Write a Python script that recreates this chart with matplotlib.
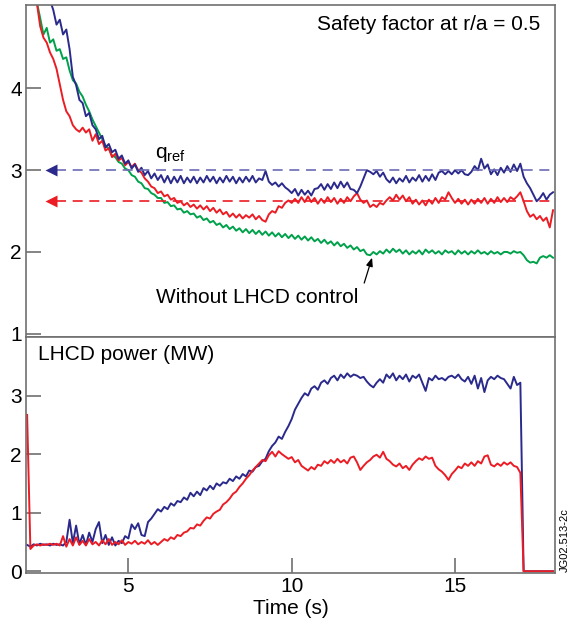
import numpy as np
import matplotlib
matplotlib.use("Agg")
import matplotlib.pyplot as plt

plt.rcParams['font.family'] = ['Liberation Sans', 'DejaVu Sans']
plt.rcParams['mathtext.fontset'] = 'custom'
plt.rcParams['mathtext.rm'] = 'Liberation Sans'
plt.rcParams['mathtext.it'] = 'Liberation Sans'

# sample times (s): 1.9 .. 18.0 every 0.1 s
t0, dt, n = 1.9, 0.1, 162
time = t0 + dt * np.arange(n)

# --- safety factor q at r/a = 0.5 ---------------------------------------------
q_blue = [6.00,
    5.85, 5.70, 5.58, 5.45, 5.32, 5.20, 5.08, 4.96, 4.78, 4.84,
    4.66, 4.72, 4.48, 4.14, 4.04, 3.86, 3.82, 3.66, 3.70, 3.55,
    3.50, 3.38, 3.42, 3.28, 3.32, 3.22, 3.25, 3.14, 3.18, 3.08,
    3.12, 3.02, 3.07, 2.98, 3.03, 2.94, 2.99, 2.90, 2.96, 2.88,
    2.94, 2.85, 2.93, 2.84, 2.92, 2.85, 2.93, 2.84, 2.91, 2.85,
    2.92, 2.84, 2.91, 2.85, 2.93, 2.86, 2.92, 2.84, 2.91, 2.85,
    2.93, 2.86, 2.92, 2.84, 2.91, 2.85, 2.92, 2.86, 2.93, 2.85,
    2.90, 2.88, 2.99, 2.86, 2.82, 2.85, 2.80, 2.84, 2.79, 2.76,
    2.72, 2.77, 2.69, 2.76, 2.70, 2.75, 2.69, 2.77, 2.78, 2.83,
    2.76, 2.83, 2.77, 2.85, 2.78, 2.86, 2.79, 2.85, 2.77, 2.76,
    2.72, 2.80, 2.90, 3.00, 2.98, 2.95, 2.99, 2.92, 2.97, 2.89,
    2.85, 2.91, 2.84, 2.90, 2.86, 2.93, 2.85, 2.91, 2.87, 2.94,
    2.86, 2.93, 2.87, 2.95, 2.88, 2.97, 2.99, 2.95, 2.99, 2.95,
    3.00, 2.96, 3.00, 2.95, 2.94, 2.98, 3.05, 3.00, 3.14, 3.02,
    3.07, 2.95, 3.01, 2.94, 3.03, 2.97, 3.05, 2.98, 3.07, 2.99,
    3.08, 2.92, 2.84, 2.78, 2.70, 2.62, 2.66, 2.72, 2.64, 2.70,
    2.73]

q_red = [5.60,
    5.40, 5.20, 5.04, 4.76, 4.62, 4.56, 4.44, 4.36, 4.24, 4.05,
    3.86, 3.72, 3.66, 3.55, 3.50, 3.47, 3.52, 3.46, 3.50, 3.36,
    3.44, 3.32, 3.36, 3.24, 3.27, 3.16, 3.20, 3.12, 3.15, 3.06,
    3.10, 3.04, 3.08, 3.00, 2.97, 2.90, 2.86, 2.80, 2.78, 2.72,
    2.74, 2.68, 2.70, 2.64, 2.66, 2.60, 2.62, 2.57, 2.60, 2.55,
    2.58, 2.53, 2.57, 2.52, 2.56, 2.50, 2.54, 2.48, 2.52, 2.46,
    2.49, 2.43, 2.47, 2.42, 2.46, 2.41, 2.45, 2.42, 2.46, 2.40,
    2.44, 2.39, 2.37, 2.46, 2.50, 2.48, 2.56, 2.54, 2.60, 2.63,
    2.60, 2.65, 2.60, 2.67, 2.61, 2.68, 2.61, 2.66, 2.59, 2.65,
    2.60, 2.67, 2.61, 2.66, 2.59, 2.65, 2.60, 2.67, 2.62, 2.68,
    2.72, 2.64, 2.60, 2.63, 2.55, 2.58, 2.55, 2.60, 2.58, 2.63,
    2.67, 2.63, 2.70, 2.64, 2.69, 2.62, 2.67, 2.59, 2.64, 2.58,
    2.63, 2.57, 2.64, 2.59, 2.66, 2.60, 2.67, 2.64, 2.73, 2.66,
    2.60, 2.65, 2.59, 2.64, 2.58, 2.64, 2.59, 2.65, 2.60, 2.66,
    2.59, 2.65, 2.60, 2.67, 2.61, 2.66, 2.61, 2.67, 2.64, 2.68,
    2.73, 2.62, 2.50, 2.43, 2.46, 2.40, 2.44, 2.38, 2.42, 2.30,
    2.51]

q_green = [5.60,
    5.40, 5.20, 5.05, 4.86, 4.66, 4.74, 4.56, 4.60, 4.46, 4.48,
    4.36, 4.38, 4.22, 4.10, 4.06, 3.96, 3.90, 3.80, 3.72, 3.62,
    3.54, 3.46, 3.38, 3.30, 3.26, 3.18, 3.16, 3.10, 3.08, 3.02,
    3.00, 2.94, 2.92, 2.86, 2.84, 2.78, 2.77, 2.72, 2.70, 2.66,
    2.66, 2.60, 2.61, 2.56, 2.57, 2.52, 2.53, 2.48, 2.50, 2.46,
    2.47, 2.42, 2.44, 2.39, 2.41, 2.36, 2.38, 2.33, 2.35, 2.30,
    2.33, 2.28, 2.31, 2.26, 2.29, 2.24, 2.28, 2.23, 2.27, 2.22,
    2.26, 2.21, 2.25, 2.20, 2.24, 2.19, 2.23, 2.18, 2.22, 2.17,
    2.21, 2.16, 2.20, 2.15, 2.19, 2.14, 2.18, 2.13, 2.16, 2.11,
    2.15, 2.10, 2.13, 2.08, 2.12, 2.07, 2.10, 2.05, 2.08, 2.03,
    2.06, 2.01, 2.03, 1.97, 1.96, 2.00, 1.97, 2.01, 1.98, 2.03,
    1.99, 2.04, 2.00, 2.03, 1.98, 2.02, 1.97, 2.01, 1.98, 2.02,
    1.97, 2.03, 1.99, 2.02, 1.98, 2.01, 1.97, 2.02, 1.99, 2.01,
    1.97, 2.02, 1.98, 2.01, 1.97, 2.01, 1.98, 2.02, 1.98, 2.00,
    1.97, 2.01, 1.98, 2.00, 1.97, 2.00, 2.00, 1.98, 2.01, 1.99,
    2.00, 1.96, 1.90, 1.87, 1.88, 1.86, 1.93, 1.95, 1.93, 1.96,
    1.93]

q_ref_blue = 3.0
q_ref_red = 2.62
q_ref_start = 2.62   # time of the arrow heads

# --- LHCD power (MW) ----------------------------------------------------------
p_blue = [0.45,
    0.42, 0.46, 0.44, 0.47, 0.45, 0.46, 0.44, 0.47, 0.45, 0.46,
    0.44, 0.50, 0.88, 0.48, 0.78, 0.46, 0.62, 0.45, 0.66, 0.50,
    0.72, 0.84, 0.48, 0.62, 0.45, 0.58, 0.44, 0.52, 0.48, 0.60,
    0.56, 0.80, 0.72, 0.82, 0.62, 0.60, 0.84, 0.90, 0.98, 1.06,
    1.02, 1.10, 1.06, 1.16, 1.12, 1.20, 1.18, 1.26, 1.22, 1.34,
    1.28, 1.36, 1.30, 1.42, 1.38, 1.46, 1.40, 1.50, 1.46, 1.52,
    1.50, 1.58, 1.54, 1.62, 1.58, 1.66, 1.62, 1.72, 1.70, 1.78,
    1.80, 1.88, 1.92, 2.05, 2.14, 2.20, 2.30, 2.26, 2.38, 2.48,
    2.60, 2.76, 2.86, 2.96, 3.04, 3.00, 3.12, 3.16, 3.10, 3.22,
    3.26, 3.20, 3.30, 3.34, 3.26, 3.36, 3.30, 3.38, 3.32, 3.36,
    3.34, 3.30, 3.32, 3.24, 3.18, 3.14, 3.22, 3.28, 3.22, 3.36,
    3.30, 3.38, 3.26, 3.34, 3.28, 3.36, 3.24, 3.34, 3.30, 3.36,
    3.22, 3.08, 3.30, 3.26, 3.34, 3.28, 3.30, 3.26, 3.32, 3.34,
    3.30, 3.36, 3.28, 3.24, 3.32, 3.20, 3.34, 3.12, 3.30, 3.06,
    3.26, 3.32, 3.28, 3.34, 3.30, 3.28, 3.20, 3.12, 3.32, 3.18,
    3.22, 0.00, 0.00, 0.00, 0.00, 0.00, 0.00, 0.00, 0.00, 0.00,
    0.00]

p_red = [2.67,
    0.38, 0.44, 0.46, 0.44, 0.46, 0.45, 0.47, 0.45, 0.47, 0.44,
    0.60, 0.42, 0.55, 0.44, 0.58, 0.45, 0.52, 0.44, 0.55, 0.46,
    0.50, 0.44, 0.53, 0.46, 0.55, 0.45, 0.50, 0.46, 0.53, 0.45,
    0.50, 0.47, 0.52, 0.46, 0.50, 0.47, 0.53, 0.46, 0.50, 0.45,
    0.50, 0.55, 0.52, 0.58, 0.55, 0.62, 0.60, 0.66, 0.68, 0.74,
    0.73, 0.80, 0.78, 0.86, 0.92, 0.90, 0.98, 1.02, 1.05, 1.14,
    1.18, 1.24, 1.32, 1.36, 1.44, 1.50, 1.58, 1.64, 1.72, 1.78,
    1.84, 1.90, 1.88, 1.98, 2.04, 1.96, 2.05, 2.00, 1.96, 1.92,
    1.95, 1.86, 1.90, 1.80, 1.76, 1.72, 1.78, 1.74, 1.82, 1.80,
    1.88, 1.84, 1.90, 1.85, 1.92, 1.86, 1.90, 1.84, 1.94, 1.96,
    1.86, 1.73, 1.80, 1.86, 1.90, 1.96, 1.99, 1.94, 2.04, 1.92,
    1.88, 1.82, 1.79, 1.84, 1.76, 1.80, 1.73, 1.82, 1.88, 1.93,
    1.90, 1.96, 1.92, 1.94, 1.80, 1.74, 1.70, 1.64, 1.56, 1.66,
    1.72, 1.79, 1.76, 1.84, 1.80, 1.86, 1.80, 1.88, 1.84, 1.96,
    1.98, 1.82, 1.79, 1.84, 1.80, 1.86, 1.82, 1.86, 1.80, 1.78,
    1.68, 0.00, 0.00, 0.00, 0.00, 0.00, 0.00, 0.00, 0.00, 0.00,
    0.00]

BLUE = "#2a2a8c"
RED = "#ec1c24"
GREEN = "#00a14b"
BLUE_REF = "#6b6bb5"
SPINE = "#707070"
FS = 15

fig = plt.figure(figsize=(5.76, 6.24), dpi=100)
ax1 = fig.add_axes([0.0451, 0.4599, 0.9184, 0.5321])
ax2 = fig.add_axes([0.0451, 0.0817, 0.9184, 0.3782])

for ax in (ax1, ax2):
    for s in ax.spines.values():
        s.set_color(SPINE)
        s.set_linewidth(1.2)
    ax.set_xlim(1.865, 18.06)
    ax.tick_params(direction="in", length=11, width=1.2, color=SPINE,
                   labelsize=FS, pad=3)

# top panel
ax1.plot(time, q_green, color=GREEN, lw=1.4)
ax1.plot(time, q_red, color=RED, lw=1.4)
ax1.plot(time, q_blue, color=BLUE, lw=1.4)

tend = time[-1] + 0.1
ax1.plot([q_ref_start + 0.15, tend], [q_ref_blue, q_ref_blue], color=BLUE_REF,
         lw=1.2, dashes=(6, 4))
ax1.plot([q_ref_start + 0.15, tend], [q_ref_red, q_ref_red], color=RED,
         lw=1.2, dashes=(6, 4))
ax1.plot([q_ref_start], [q_ref_blue], marker="<", ms=8, color=BLUE, mec="none")
ax1.plot([q_ref_start], [q_ref_red], marker="<", ms=8, color=RED, mec="none")

ax1.set_ylim(0.96, 5.02)
ax1.set_yticks([1, 2, 3, 4])
ax1.set_xticks([])

ax1.text(0.972, 0.94, "Safety factor at r/a = 0.5", transform=ax1.transAxes,
         ha="right", va="center", fontsize=FS)
ax1.text(5.815, 3.147, r"q$_{\mathrm{ref}}$", ha="left", va="baseline",
         fontsize=FS)
ax1.text(8.94, 1.445, "Without LHCD control", ha="center", va="center",
         fontsize=FS)
ax1.annotate("", xy=(12.46, 1.93), xytext=(12.22, 1.62),
             arrowprops=dict(arrowstyle="-|>,head_length=0.5,head_width=0.2",
                             color="black", lw=0.9, shrinkA=0, shrinkB=0))

# bottom panel
ax2.plot(time, p_blue, color=BLUE, lw=1.4)
ax2.plot(time, p_red, color=RED, lw=1.4)
ax2.set_ylim(-0.03, 4.0)
ax2.set_yticks([0, 1, 2, 3])
ax2.set_xticks([5, 10, 15])
ax2.set_xlabel("Time (s)", fontsize=FS, labelpad=2)
ax2.text(0.023, 0.924, "LHCD power (MW)", transform=ax2.transAxes,
         ha="left", va="center", fontsize=FS)

fig.text(0.981, 0.083, "JG02.513-2c", rotation=90, ha="center", va="bottom",
         fontsize=8)

fig.savefig("out.png", dpi=100)
